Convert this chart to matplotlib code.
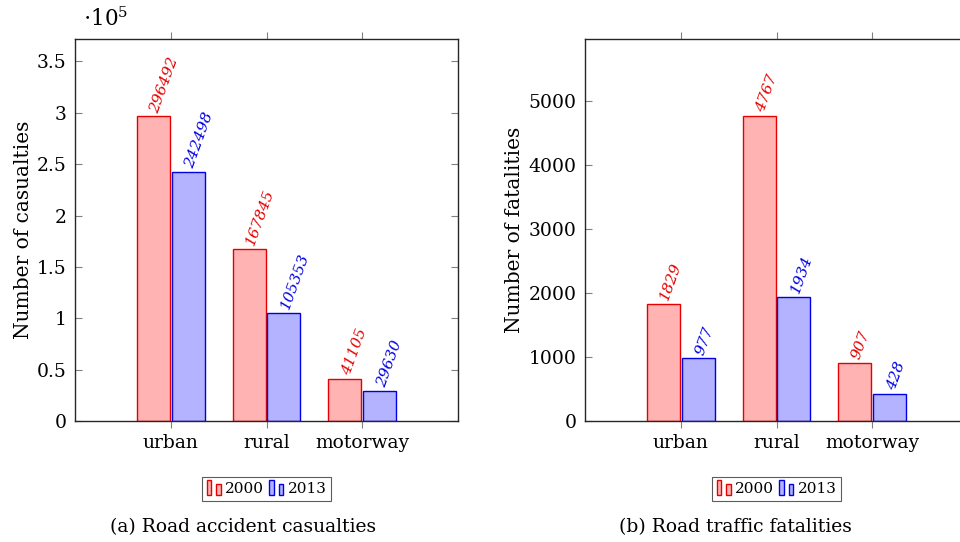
import matplotlib
matplotlib.use("Agg")
import matplotlib.pyplot as plt
from matplotlib.patches import Rectangle, Patch
from matplotlib.legend_handler import HandlerBase
from matplotlib.ticker import FuncFormatter
import numpy as np

categories = ["urban", "rural", "motorway"]
casualties_2000 = [296492, 167845, 41105]
casualties_2013 = [242498, 105353, 29630]
fatalities_2000 = [1829, 4767, 907]
fatalities_2013 = [977, 1934, 428]
years = ["2000", "2013"]
cas_ticks = [0, 50000, 100000, 150000, 200000, 250000, 300000, 350000]
fat_ticks = [0, 1000, 2000, 3000, 4000, 5000]

plt.rcParams['font.family'] = ['DejaVu Serif']
plt.rcParams['mathtext.fontset'] = 'dejavuserif'

FS = 13.5

RED_FC = (1.0, 0.70, 0.70)
BLUE_FC = (0.70, 0.70, 1.0)
RED_EC = (0.9, 0.0, 0.0)
BLUE_EC = (0.0, 0.0, 0.9)


class TwoBarHandler(HandlerBase):
    def create_artists(self, legend, orig_handle, xdescent, ydescent,
                       width, height, fontsize, trans):
        fc = orig_handle.get_facecolor()
        ec = orig_handle.get_edgecolor()
        w = width * 0.28
        y0 = -ydescent - height * 0.1
        r1 = Rectangle((-xdescent + width * 0.02, y0), w, height * 1.25,
                       facecolor=fc, edgecolor=ec, lw=1.0, transform=trans)
        r2 = Rectangle((-xdescent + width * 0.58, y0), w, height * 0.95,
                       facecolor=fc, edgecolor=ec, lw=1.0, transform=trans)
        return [r1, r2]


fig = plt.figure(figsize=(9.6, 5.42), dpi=100)

ax1 = fig.add_axes([75 / 960, (542 - 421) / 542, 383 / 960, 382 / 542])
ax2 = fig.add_axes([585 / 960, (542 - 421) / 542, 383 / 960, 382 / 542])


def draw(ax, v2000, v2013, yticks, ymax, ylabel, fmt):
    x = np.arange(1, len(categories) + 1)
    bw = 0.345
    gap = 0.01
    b1 = ax.bar(x - bw / 2 - gap, v2000, bw, color=RED_FC, edgecolor=RED_EC, lw=1.0, zorder=2)
    b2 = ax.bar(x + bw / 2 + gap, v2013, bw, color=BLUE_FC, edgecolor=BLUE_EC, lw=1.0, zorder=2)
    for bars, vals, col in ((b1, v2000, RED_EC), (b2, v2013, BLUE_EC)):
        for rect, v in zip(bars, vals):
            ax.annotate(str(v), (rect.get_x() + rect.get_width() / 2, v),
                        xytext=(1, 3), textcoords='offset points',
                        rotation=70, rotation_mode='anchor', ha='left', va='center',
                        color=col, fontsize=11, style='italic')
    ax.set_xlim(0, 4)
    ax.set_ylim(0, ymax)
    ax.set_xticks(x)
    ax.set_xticklabels(categories, fontsize=FS)
    ax.set_yticks(yticks)
    ax.yaxis.set_major_formatter(FuncFormatter(fmt))
    ax.tick_params(axis='y', direction='in', left=True, right=True, length=5,
                   color='0.5', labelsize=FS, pad=6)
    ax.tick_params(axis='x', direction='out', bottom=True, top=True, length=5,
                   color='0.5', labelsize=FS, pad=4)
    for s in ax.spines.values():
        s.set_color('0.15')
        s.set_linewidth(1.0)
    ax.set_ylabel(ylabel, fontsize=14.5, labelpad=3)
    h1 = Patch(facecolor=RED_FC, edgecolor=RED_EC)
    h2 = Patch(facecolor=BLUE_FC, edgecolor=BLUE_EC)
    leg = ax.legend([h1, h2], years, ncol=2, loc='center',
                    bbox_to_anchor=(0.5, -0.178), fontsize=11,
                    handler_map={Patch: TwoBarHandler()},
                    handlelength=1.1, handleheight=0.8, handletextpad=0.15,
                    columnspacing=0.3, borderpad=0.3, borderaxespad=0,
                    fancybox=False, frameon=True, edgecolor='0.2')
    leg.get_frame().set_linewidth(0.8)


draw(ax1, casualties_2000, casualties_2013, cas_ticks, max(casualties_2000) * 1.254,
     "Number of casualties", lambda v, p: "%g" % (v / 1e5))
draw(ax2, fatalities_2000, fatalities_2013, fat_ticks, max(fatalities_2000) * 1.252,
     "Number of fatalities", lambda v, p: "%d" % v)

ax1.text(0.02, 1.02, r"$\cdot10^5$", transform=ax1.transAxes, fontsize=15.5,
         ha='left', va='bottom')

fig.text(243 / 960, (542 - 527) / 542, "(a) Road accident casualties",
         ha='center', va='center', fontsize=FS)
fig.text(735 / 960, (542 - 527) / 542, "(b) Road traffic fatalities",
         ha='center', va='center', fontsize=FS)

fig.savefig("out.png", dpi=100)
